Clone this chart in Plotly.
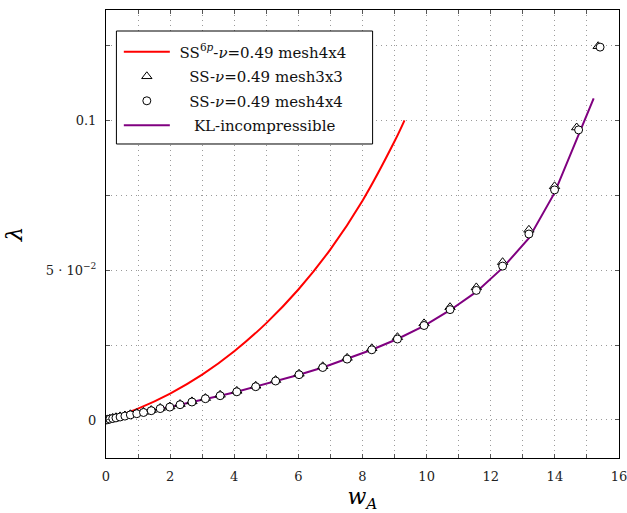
import plotly.graph_objects as go

# Out-of-plane displacement w_A versus load factor lambda

# SS^6p, nu = 0.49, mesh 4x4 (smooth curve)
ss6p_w = [0.0, 1.0, 2.0, 3.0, 4.0, 5.0, 6.0, 7.0, 8.0, 9.0, 9.31]
ss6p_lam = [0.0, 0.0038, 0.0088, 0.0151, 0.0229, 0.0323, 0.0435, 0.0569,
            0.0731, 0.0929, 0.0999]

# SS, nu = 0.49, mesh 3x3
ss3_w = [0.0, 0.05, 0.12, 0.21, 0.31, 0.44, 0.59, 0.76, 0.96, 1.17, 1.41,
         1.69, 1.99, 2.31, 2.68, 3.10, 3.56, 4.08, 4.67, 5.29, 6.02, 6.76,
         7.52, 8.29, 9.09, 9.92, 10.73, 11.55, 12.37, 13.19, 13.99, 14.68,
         15.35]
ss3_lam = [0.0, 0.0002, 0.0004, 0.0007, 0.0009, 0.0012, 0.0015, 0.0019,
           0.0023, 0.0027, 0.0033, 0.0040, 0.0045, 0.0053, 0.0062, 0.0073,
           0.0084, 0.0097, 0.0114, 0.0133, 0.0154, 0.0179, 0.0207, 0.0239,
           0.0276, 0.0322, 0.0376, 0.0442, 0.0526, 0.0634, 0.0779, 0.0975,
           0.1246]

# SS, nu = 0.49, mesh 4x4
ss4_w = [0.0, 0.05, 0.12, 0.21, 0.31, 0.44, 0.59, 0.76, 0.96, 1.17, 1.41,
         1.69, 1.99, 2.31, 2.68, 3.10, 3.56, 4.08, 4.67, 5.29, 6.02, 6.76,
         7.52, 8.29, 9.09, 9.92, 10.73, 11.55, 12.37, 13.19, 13.99, 14.74,
         15.41]
ss4_lam = [0.0, 0.0001, 0.0003, 0.0005, 0.0007, 0.0010, 0.0013, 0.0017,
           0.0021, 0.0025, 0.0031, 0.0038, 0.0043, 0.0051, 0.0060, 0.0071,
           0.0081, 0.0094, 0.0111, 0.0130, 0.0151, 0.0175, 0.0203, 0.0234,
           0.0270, 0.0315, 0.0368, 0.0432, 0.0513, 0.0620, 0.0767, 0.0967,
           0.1243]

# Kirchhoff-Love incompressible reference
kl_w = [0.0, 0.05, 0.12, 0.21, 0.31, 0.44, 0.59, 0.76, 0.96, 1.17, 1.41,
        1.69, 1.99, 2.31, 2.68, 3.10, 3.56, 4.08, 4.67, 5.29, 6.02, 6.76,
        7.52, 8.29, 9.09, 9.92, 10.73, 11.55, 12.37, 13.19, 13.99, 14.74,
        15.21]
kl_lam = [0.0, 0.0001, 0.0003, 0.0005, 0.0007, 0.0010, 0.0013, 0.0017,
          0.0021, 0.0025, 0.0031, 0.0038, 0.0043, 0.0051, 0.0060, 0.0071,
          0.0081, 0.0094, 0.0111, 0.0130, 0.0151, 0.0175, 0.0203, 0.0234,
          0.0270, 0.0314, 0.0366, 0.0427, 0.0507, 0.0606, 0.0757, 0.0952,
          0.1072]

x_ticks = [0, 2, 4, 6, 8, 10, 12, 14, 16]
y_ticks = [0, 0.05, 0.1]
y_tick_text = ["0", "5 · 10<sup>−2</sup>", "0.1"]

FONT = "DejaVu Serif"
PAD = "\u00a0"  # non-breaking space used to centre the legend labels

fig = go.Figure()

fig.add_trace(go.Scatter(
    x=ss6p_w, y=ss6p_lam, mode="lines", line=dict(color="#ff0000", width=2, shape="spline"),
    name=PAD + "SS<sup>6<i>p</i></sup>-<i>ν</i>=0.49 mesh4x4", legendrank=1, legendgroup="a"))
fig.add_trace(go.Scatter(
    x=kl_w, y=kl_lam, mode="lines", line=dict(color="#800080", width=2),
    name=PAD * 4 + "KL-incompressible", legendrank=4, legendgroup="d"))
fig.add_trace(go.Scatter(
    x=ss3_w, y=ss3_lam, mode="markers",
    marker=dict(symbol="triangle-up", size=9, color="white", line=dict(color="black", width=1)),
    name=PAD * 3 + "SS-<i>ν</i>=0.49 mesh3x3", legendrank=2, legendgroup="b"))
fig.add_trace(go.Scatter(
    x=ss4_w, y=ss4_lam, mode="markers",
    marker=dict(symbol="circle", size=8, color="white", line=dict(color="black", width=1)),
    name=PAD * 3 + "SS-<i>ν</i>=0.49 mesh4x4", legendrank=3, legendgroup="c"))

grid_dash = "1px,4px"
axis_common = dict(
    showline=True, linecolor="black", linewidth=1, mirror="allticks",
    ticks="inside", ticklen=4, tickcolor="#555", tickwidth=1,
    showgrid=True, gridcolor="#9a9a9a", gridwidth=1, griddash=grid_dash,
    zeroline=False, tickfont=dict(family=FONT, size=13, color="#222"),
    ticklabelstandoff=6, ticklabeloverflow="allow",
)

fig.update_xaxes(
    **axis_common, range=[0, 16], tickmode="array", tickvals=x_ticks,
    minor=dict(tickmode="linear", tick0=0, dtick=1, ticks="inside", ticklen=4,
               tickcolor="#555", showgrid=True, gridcolor="#9a9a9a", griddash=grid_dash),
    title=dict(text="<i>w</i><sub><i>A</i></sub>", font=dict(family=FONT, size=22, color="black"),
               standoff=12),
)
fig.update_yaxes(
    **axis_common, range=[-0.01267, 0.13667], tickmode="array", tickvals=y_ticks,
    ticktext=y_tick_text,
    minor=dict(tickmode="linear", tick0=0, dtick=0.025, ticks="inside", ticklen=4,
               tickcolor="#555", showgrid=True, gridcolor="#9a9a9a", griddash=grid_dash),
    title=dict(text="<i>λ</i>", font=dict(family=FONT, size=23, color="black"), standoff=16),
)

# legend frame
fig.add_shape(type="rect", xref="paper", yref="paper", x0=0.0203, x1=0.5197,
              y0=0.7009, y1=0.9531, fillcolor="white", line=dict(color="black", width=1),
              layer="above")

fig.update_layout(
    width=627, height=513,
    margin=dict(l=106, r=8, t=10, b=55, autoexpand=False),
    plot_bgcolor="white", paper_bgcolor="white",
    showlegend=True,
    legend=dict(x=0.025, y=0.943, xanchor="left", yanchor="top",
                bgcolor="rgba(0,0,0,0)", borderwidth=0,
                font=dict(family=FONT, size=15, color="#111"),
                traceorder="grouped", tracegroupgap=2, itemwidth=46),
)

fig.write_html("out.html")
